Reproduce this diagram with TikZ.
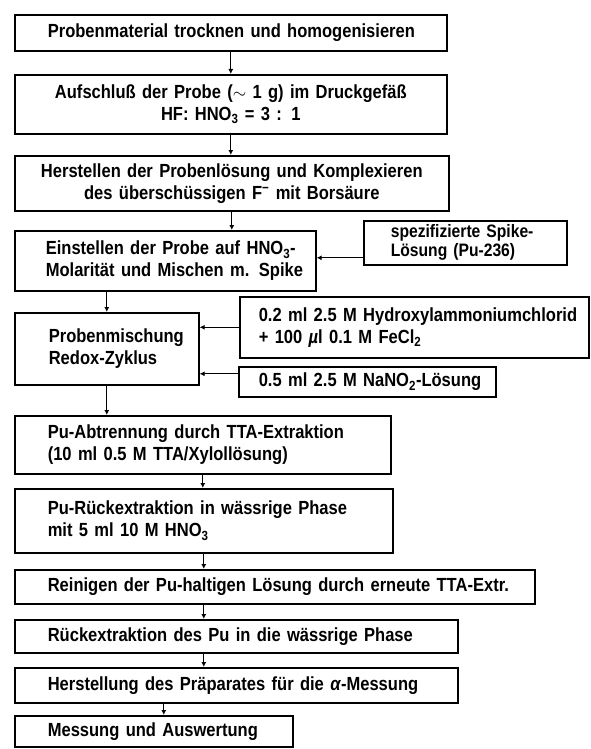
\documentclass[tikz,border=0pt]{standalone}
\usepackage{fontspec}
\setmainfont{Liberation Sans}[FakeStretch=0.87]
\usepackage{tikz}
\usetikzlibrary{arrows.meta}
\newcommand{\stagefont}{\fontsize{19}{22}\selectfont\bfseries}

\begin{document}
\begin{tikzpicture}[x=1pt, y=-1pt]
      \tikzset{
        stage/.style={draw, line width=1.6pt, anchor=north west, inner xsep=0pt,
            inner ysep=2pt, align=left, font=\stagefont,
            execute at begin node={\leftskip=#1pt}},
        stage/.default=33,
        stage centred/.style={draw, line width=1.6pt, anchor=north west,
            inner xsep=0pt, inner ysep=2pt, align=center, font=\stagefont},
        feed/.style={line width=1.3pt, -{Latex[length=5pt, width=5pt]}}
      }
      \useasboundingbox (0,0) rectangle (590,749);

      % Main chain
      \node[stage, text width=432, minimum height=36] (dry) at (14,14) {Probenmaterial trocknen und homogenisieren};
      \node[stage centred, text width=432, minimum height=59] (digest) at (14,74) {Aufschluß der Probe ($\sim$ 1 g) im Druckgefäß\\HF: HNO\textsubscript{3} = 3 : 1};
      \node[stage centred, text width=434, minimum height=55] (solution) at (14,155) {Herstellen der Probenlösung und Komplexieren\\des überschüssigen F\textsuperscript{−} mit Borsäure};
      \node[stage=31, text width=301, minimum height=60] (adjust) at (14,230) {Einstellen der Probe auf HNO\textsubscript{3}-\\Molarität und Mischen m. Spike};
      \node[stage=34, text width=184, minimum height=72] (redox) at (14,312) {Probenmischung\\Redox-Zyklus};
      \node[stage, text width=376, minimum height=58] (ttaext) at (14,415) {Pu-Abtrennung durch TTA-Extraktion\\(10 ml 0.5 M TTA/Xylollösung)};
      \node[stage, text width=378, minimum height=64] (backext) at (14,488) {Pu-Rückextraktion in wässrige Phase\\mit 5 ml 10 M HNO\textsubscript{3}};
      \node[stage, text width=520, minimum height=34] (purify) at (14,569) {Reinigen der Pu-haltigen Lösung durch erneute TTA-Extr.};
      \node[stage, text width=443, minimum height=33] (backagain) at (14,619) {Rückextraktion des Pu in die wässrige Phase};
      \node[stage, text width=443, minimum height=35] (source) at (14,667) {Herstellung des Präparates für die \textit{α}-Messung};
      \node[stage, text width=278, minimum height=31] (measure) at (14,715) {Messung und Auswertung};

      % Additions from the side
      \node[stage=27, text width=203, minimum height=44, inner ysep=0pt,
            font=\fontsize{18}{19}\selectfont\bfseries] (spike) at (363,220) {spezifizierte Spike-\\Lösung (Pu-236)};
      \node[stage=19, text width=349, minimum height=61] (hydrox) at (239,296) {0.2 ml 2.5 M Hydroxylammoniumchlorid\\+ 100 \textit{µ}l 0.1 M FeCl\textsubscript{2}};
      \node[stage=20, text width=257, minimum height=30] (nitrite) at (238,366) {0.5 ml 2.5 M NaNO\textsubscript{2}-Lösung};

      % Connectors
      \draw[feed] (dry.south) -- (digest.north);
      \draw[feed] (digest.south) -- (digest.south |- solution.north);
      \draw[feed] (solution.south) -- (solution.south |- adjust.north);
      \draw[feed] (adjust.south -| redox.north) -- (redox.north);
      \draw[feed] (redox.south) -- (redox.south |- ttaext.north);
      \draw[feed] (ttaext.south) -- (ttaext.south |- backext.north);
      \draw[feed] (backext.south) -- (backext.south |- purify.north);
      \draw[feed] (purify.south -| backext.south) -- (backext.south |- backagain.north);
      \draw[feed] (backagain.south -| backext.south) -- (backext.south |- source.north);
      \draw[feed] ([xshift=10pt]measure.north |- source.south) -- ([xshift=10pt]measure.north);

      \draw[feed] ([yshift=-15pt]spike.west) -- ([yshift=-15pt]spike.west -| adjust.east);
      \draw[feed] (hydrox.west) -- (hydrox.west -| redox.east);
      \draw[feed] ([yshift=8pt]nitrite.west) -- ([yshift=8pt]nitrite.west -| redox.east);
\end{tikzpicture}
\end{document}
